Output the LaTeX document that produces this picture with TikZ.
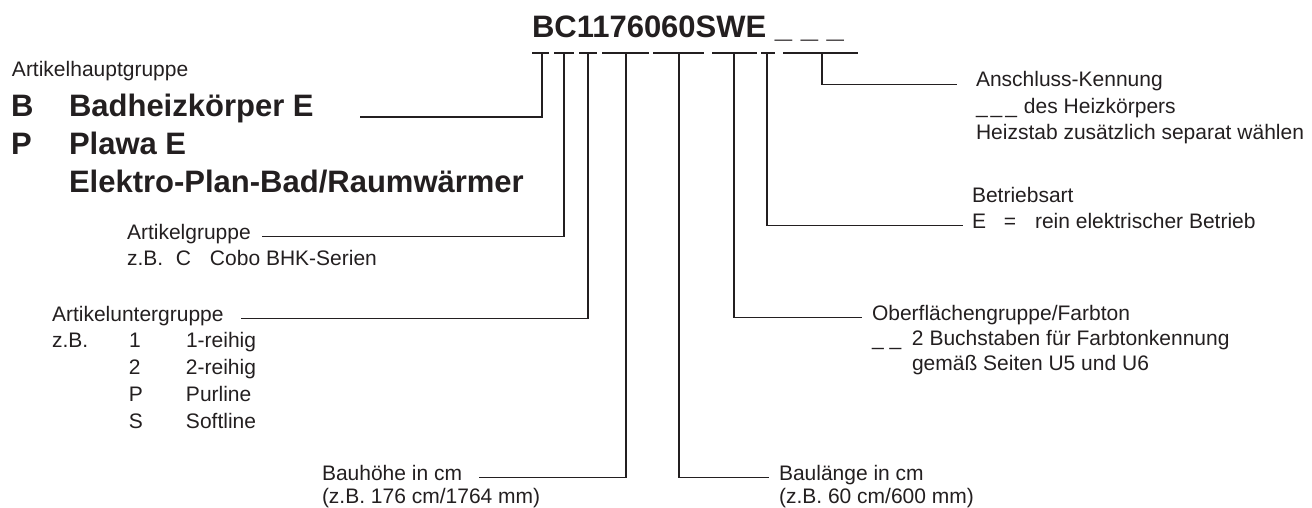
\documentclass[tikz,border=0pt]{standalone}
\usepackage{fontspec}
\setmainfont{Liberation Sans}
\usepackage{xcolor}
\definecolor{ink}{HTML}{231F20}

\begin{document}
\begin{tikzpicture}[
    x=1pt, y=-1pt,
    txt/.style={inner sep=0pt, outer sep=0pt, anchor=base west, text=ink,
                font=\fontsize{21}{25}\selectfont},
    big/.style={txt, font=\fontsize{31}{36}\selectfont\bfseries},
    seg/.style={draw=ink, line width=1.3pt},
    conn/.style={draw=ink, line width=1.3pt}
]
\useasboundingbox (0,0) rectangle (1312,508);

\node[big] (code) at (532,38) {BC1176060SWE \_ \_ \_};

\draw[seg] (532,53) -- (549,53);
\draw[seg] (554,53) -- (574,53);
\draw[seg] (579,53) -- (597,53);
\draw[seg] (602,53) -- (649,53);
\draw[seg] (653,53) -- (704,53);
\draw[seg] (712,53) -- (757,53);
\draw[seg] (761,53) -- (775,53);
\draw[seg] (783,53) -- (858,53);

\coordinate (tHaupt) at (542,53);
\coordinate (tGruppe) at (564,53);
\coordinate (tUnter) at (588,53);
\coordinate (tHoehe) at (626,53);
\coordinate (tLaenge) at (679,53);
\coordinate (tFarbe) at (734,53);
\coordinate (tBetrieb) at (767,53);
\coordinate (tAnschluss) at (822,53);

\node[txt] (hgrp) at (12,77) {Artikelhauptgruppe};
\node[big] (keyB) at (11,117) {B};
\node[big] (badh) at (69,117) {Badheizkörper E};
\node[big] (keyP) at ([yshift=-38pt]keyB.base west) {P};
\node[big] (plawa) at ([yshift=-38pt]badh.base west) {Plawa E};
\node[big] (elektro) at ([yshift=-37pt]plawa.base west) {Elektro-Plan-Bad/Raumwärmer};

\node[txt] (agrp) at (127,239) {Artikelgruppe};
\node[txt] (agrpEx) at ([yshift=-26pt]agrp.base west) {\makebox[49pt][l]{z.B.}\makebox[34pt][l]{C}Cobo BHK-Serien};

\node[txt] (ugrp) at (52,321) {Artikeluntergruppe};
\node[txt] (ugrp1) at ([yshift=-26.5pt]ugrp.base west) {\makebox[77pt][l]{z.B.}\makebox[57pt][l]{1}1-reihig};
\node[txt] (ugrp2) at ([yshift=-27pt]ugrp1.base west) {\hspace*{77pt}\makebox[57pt][l]{2}2-reihig};
\node[txt] (ugrpP) at ([yshift=-27pt]ugrp2.base west) {\hspace*{77pt}\makebox[57pt][l]{P}Purline};
\node[txt] (ugrpS) at ([yshift=-27pt]ugrpP.base west) {\hspace*{77pt}\makebox[57pt][l]{S}Softline};

\node[txt] (hoehe) at (322,480) {Bauhöhe in cm};
\node[txt] (hoeheEx) at ([yshift=-23pt]hoehe.base west) {(z.B. 176 cm/1764 mm)};

\node[txt] (laenge) at (779,480) {Baulänge in cm};
\node[txt] (laengeEx) at ([yshift=-23pt]laenge.base west) {(z.B. 60 cm/600 mm)};

\node[txt] (farbe) at (872,320) {Oberflächengruppe/Farbton};
\node[txt] (farbeEx) at ([yshift=-25pt]farbe.base west) {\makebox[40pt][l]{\_ \_}2 Buchstaben für Farbtonkennung};
\node[txt] (farbeEx2) at ([yshift=-25pt]farbeEx.base west) {\hspace*{40pt}gemäß Seiten U5 und U6};

\node[txt] (betrieb) at (972,202) {Betriebsart};
\node[txt] (betriebE) at ([yshift=-26pt]betrieb.base west) {\makebox[32pt][l]{E}\makebox[31pt][l]{=}rein elektrischer Betrieb};

\node[txt] (ansch) at (976,87) {Anschluss-Kennung};
\node[txt] (anschEx) at ([yshift=-26.5pt]ansch.base west) {\makebox[48pt][l]{\_\kern3pt\_\kern3pt\_}des Heizkörpers};
\node[txt] (anschEx2) at ([yshift=-26.5pt]anschEx.base west) {Heizstab zusätzlich separat wählen};

\draw[conn] (tHaupt) |- ([xshift=46pt]badh.base east);
\draw[conn] (tGruppe) |- ([xshift=11pt]agrp.mid east);
\draw[conn] (tUnter) |- ([xshift=17pt]ugrp.mid east);
\draw[conn] (tHoehe) |- ([xshift=17pt]hoehe.mid east);
\draw[conn] (tLaenge) |- ([xshift=-10pt]laenge.mid west);
\draw[conn] (tFarbe) |- ([xshift=-10pt]farbe.mid west);
\draw[conn] (tBetrieb) |- ([xshift=-9pt]betriebE.mid west);
\draw[conn] (tAnschluss) |- ([xshift=-19pt]ansch.mid west);
\end{tikzpicture}
\end{document}
